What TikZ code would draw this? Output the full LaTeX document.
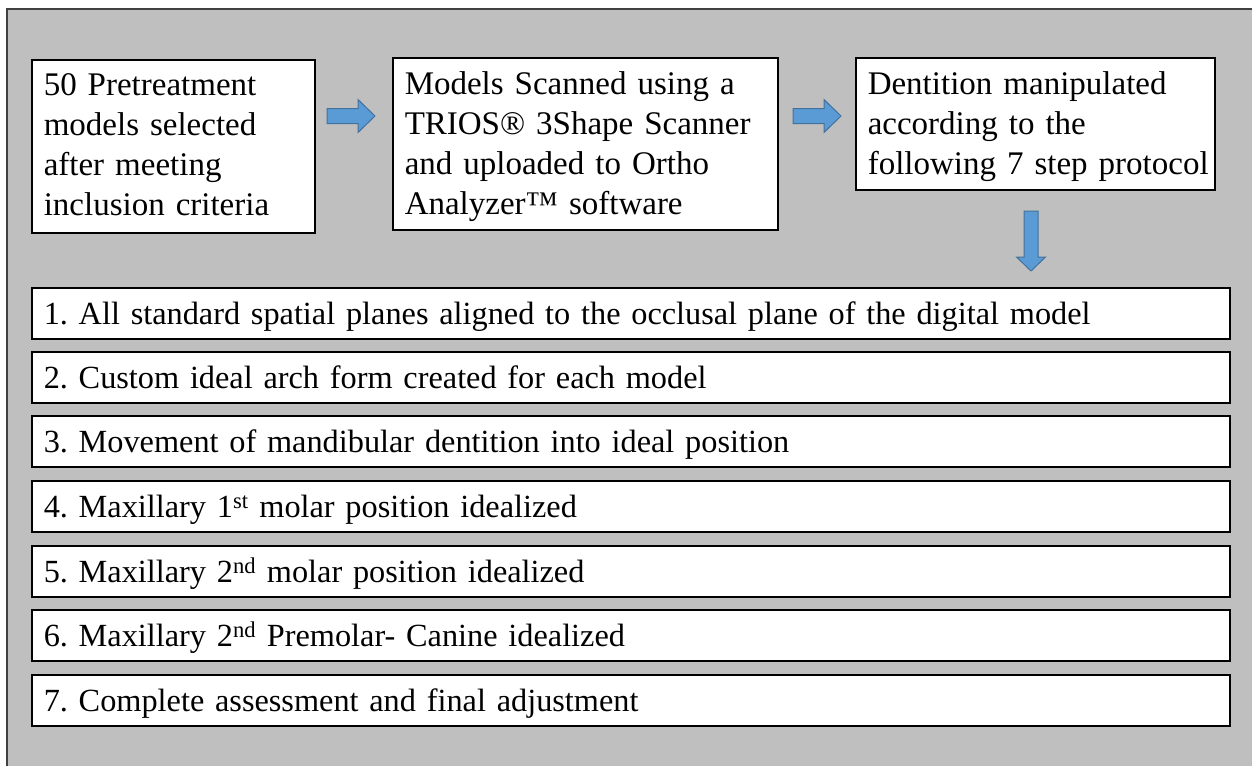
\documentclass[tikz,border=0pt]{standalone}
\usepackage{fontspec}
\setmainfont{Liberation Serif}
\definecolor{bggray}{HTML}{BFBFBF}
\definecolor{framegray}{HTML}{404040}
\definecolor{arrowfill}{HTML}{5B9BD5}
\definecolor{arrowline}{HTML}{41719C}
\frenchspacing
\newcommand\myTopFont{\fontsize{33}{40}\selectfont\frenchspacing}
\newcommand\myStepFont{\fontsize{32.3}{40}\selectfont\frenchspacing}
\newcommand\myUp[1]{\vrule width 0pt height #1 depth 0pt\relax}
\newcommand\myDown[1]{\vrule width 0pt height 0pt depth #1\relax}
\begin{document}
\begin{tikzpicture}[x=1pt,y=-1pt,
  box/.style={draw=black, line width=1.5pt, fill=white, anchor=north west,
    inner xsep=12pt, inner ysep=0pt, align=left, font=\myTopFont},
  topbox/.style 2 args={box, text width=#1, minimum height=#2},
  stepbox/.style={box, text width=1174pt, minimum height=51pt,
    text height=22pt, text depth=0pt, font=\myStepFont},
  blockarrow/.style={fill=arrowfill, draw=arrowline, line width=1pt, line join=miter},
  rarrow/.pic={\path[blockarrow] (0,-7.5) -- (31,-7.5) -- (31,-16.5) -- (48,0)
     -- (31,16.5) -- (31,7.5) -- (0,7.5) -- cycle;},
  darrow/.pic={\path[blockarrow] (-7,0) -- (7,0) -- (7,46) -- (14.5,46) -- (0,60)
     -- (-14.5,46) -- (-7,46) -- cycle;}
  ]
\useasboundingbox (0,0) rectangle (1252,766);
% background panel
\fill[bggray] (7,9) rectangle (1252,766);
\draw[framegray, line width=1.2pt] (7,766) -- (7,9) -- (1252,9);

% top boxes
\node[topbox={259pt}{173pt}] (b1) at (31,59)
  {\mbox{50 Pretreatment}\\\mbox{models selected}\\\mbox{after meeting}\\\mbox{inclusion criteria}\myDown{4pt}};
\node[topbox={361pt}{172pt}] (b2) at (392,57)
  {\mbox{Models Scanned using a}\myUp{28.5pt}\\\mbox{TRIOS® 3Shape Scanner}\\\mbox{and uploaded to Ortho}\\\mbox{Analyzer™ software}};
\node[topbox={335pt}{132pt}] (b3) at (855,57)
  {\mbox{Dentition manipulated}\myUp{28pt}\\\mbox{according to the}\\\mbox{following 7 step protocol}};

% arrows
\coordinate (a1) at (327,116);
\coordinate (a2) at (793,116);
\coordinate (a3) at (1031,211);
\pic at (a1) {rarrow};
\pic at (a2) {rarrow};
\pic at (a3) {darrow};

% step boxes
\node[stepbox] (s1) at (31,287) {1. All standard spatial planes aligned to the occlusal plane of the digital model};
\node[stepbox] (s2) at (31,351) {2. Custom ideal arch form created for each model};
\node[stepbox] (s3) at (31,415) {3. Movement of mandibular dentition into ideal position};
\node[stepbox] (s4) at (31,480) {4. Maxillary 1\textsuperscript{st} molar position idealized};
\node[stepbox] (s5) at (31,545) {5. Maxillary 2\textsuperscript{nd} molar position idealized};
\node[stepbox] (s6) at (31,609) {6. Maxillary 2\textsuperscript{nd} Premolar- Canine idealized};
\node[stepbox] (s7) at (31,674) {7. Complete assessment and final adjustment};
\end{tikzpicture}
\end{document}
